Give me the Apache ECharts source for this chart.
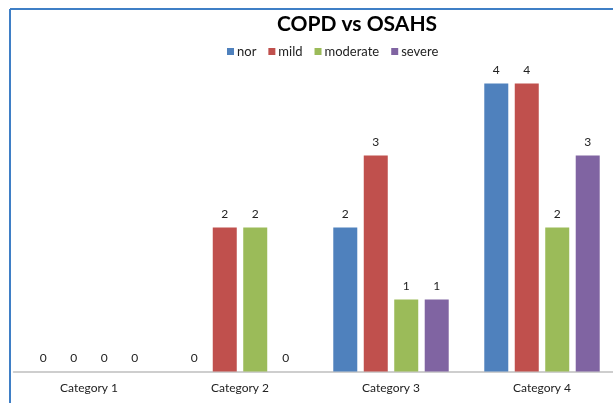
<!DOCTYPE html>
<html>
<head>
<meta charset="utf-8">
<script src="https://cdn.jsdelivr.net/npm/echarts@6/dist/echarts.min.js"></script>
<style>
  html, body { margin: 0; padding: 0; background: #fff; }
  #chart { width: 613px; height: 403px; }
</style>
</head>
<body>
<div id="chart"></div>
<script>
const categories = ['Category 1', 'Category 2', 'Category 3', 'Category 4']
const seriesNames = ['nor', 'mild', 'moderate', 'severe']
const nor = [0, 0, 2, 4]
const mild = [0, 2, 3, 4]
const moderate = [0, 2, 1, 2]
const severe = [0, 0, 1, 3]

const colors = ['#4F81BD', '#C0504D', '#9BBB59', '#8064A2']
const font = 'Lato, "Open Sans", sans-serif'

const chart = echarts.init(document.getElementById('chart'))
chart.setOption({
  animation: false,
  title: {
    text: 'COPD vs OSAHS',
    left: 352, top: 9, textAlign: 'center',
    textStyle: { fontFamily: font, fontWeight: 'bold', fontSize: 21, color: '#000' },
  },
  legend: {
    data: seriesNames,
    left: 222, top: 40,
    itemWidth: 7, itemHeight: 7, itemGap: 12,
    icon: 'rect',
    textStyle: { fontFamily: font, fontSize: 13, color: '#222', padding: [0, 0, 0, -2] },
  },
  // the plot runs a few px past the right edge of the picture
  grid: { left: 13.5, width: 604, top: 83.5, bottom: 31.5, outerBoundsMode: 'none' },
  xAxis: {
    type: 'category', data: categories,
    axisLine: { lineStyle: { color: '#BFBFBF', width: 1.5 } },
    axisTick: { show: false },
    axisLabel: { fontFamily: font, fontSize: 12, color: '#222', margin: 11 },
  },
  yAxis: { type: 'value', min: 0, max: 4, show: false, splitLine: { show: false } },
  series: [nor, mild, moderate, severe].map((d, i) => ({
    name: seriesNames[i], type: 'bar', data: d,
    barWidth: 24, barGap: '27%',
    itemStyle: { color: colors[i] },
    label: { show: true, position: 'top', distance: 7, fontFamily: font, fontSize: 12, color: '#222' },
  })),
  graphic: [
    { type: 'line', shape: { x1: 10, y1: 9, x2: 613, y2: 9 }, style: { stroke: '#3F7FC6', lineWidth: 2 } },
    { type: 'line', shape: { x1: 10, y1: 9, x2: 10, y2: 403 }, style: { stroke: '#3F7FC6', lineWidth: 2 } },
  ],
})
</script>
</body>
</html>
